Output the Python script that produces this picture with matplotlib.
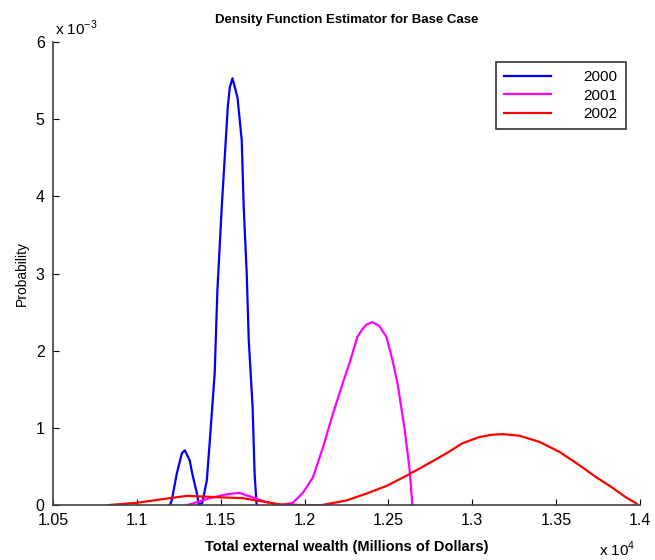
import numpy as np
import matplotlib.pyplot as plt

plt.rcParams["font.family"] = ["Liberation Sans", "DejaVu Sans"]

# wealth in units of 1e4, density in units of 1e-3
x_2000 = [1.1196, 1.1208, 1.1238, 1.1268, 1.1286, 1.1315, 1.133, 1.1357, 1.137,
          1.139, 1.1417, 1.1435, 1.1464, 1.148, 1.1506, 1.1524, 1.1542, 1.1554,
          1.157, 1.160, 1.1625, 1.1637, 1.1655, 1.1667, 1.169, 1.1702, 1.1714]
y_2000 = [0.0, 0.06, 0.41, 0.67, 0.71, 0.58, 0.41, 0.16, 0.0,
          0.03, 0.32, 0.84, 1.71, 2.78, 3.86, 4.51, 5.16, 5.41,
          5.53, 5.28, 4.73, 3.86, 3.0, 2.14, 1.27, 0.41, 0.0]

x_2001 = [1.130, 1.1435, 1.1536, 1.161, 1.169, 1.177, 1.186, 1.193, 1.199,
          1.205, 1.211, 1.217, 1.222, 1.2268, 1.2315, 1.2345, 1.237, 1.2405,
          1.2446, 1.2488, 1.2524, 1.2554, 1.2595, 1.2625, 1.2643]
y_2001 = [0.0, 0.09, 0.14, 0.16, 0.10, 0.04, 0.0, 0.03, 0.16,
          0.36, 0.75, 1.19, 1.53, 1.84, 2.18, 2.28, 2.34, 2.37,
          2.32, 2.18, 1.88, 1.58, 1.01, 0.49, 0.0]

x_2002 = [1.0827, 1.10, 1.1196, 1.13, 1.151, 1.163, 1.177, 1.185, 1.20, 1.21,
          1.225, 1.237, 1.249, 1.2607, 1.274, 1.2845, 1.294, 1.304, 1.311,
          1.3178, 1.328, 1.34, 1.352, 1.3637, 1.374, 1.3833, 1.3917, 1.398]
y_2002 = [0.0, 0.03, 0.09, 0.12, 0.10, 0.09, 0.04, 0.01, 0.0, 0.0,
          0.06, 0.15, 0.25, 0.38, 0.54, 0.67, 0.80, 0.88, 0.91,
          0.92, 0.90, 0.82, 0.69, 0.52, 0.36, 0.23, 0.10, 0.02]

xticks = [1.05, 1.1, 1.15, 1.2, 1.25, 1.3, 1.35, 1.4]
xtick_labels = ["1.05", "1.1", "1.15", "1.2", "1.25", "1.3", "1.35", "1.4"]
yticks = [0, 1, 2, 3, 4, 5, 6]

fig = plt.figure(figsize=(6.55, 5.6), dpi=100)
ax = fig.add_axes([0.081, 0.098, 0.896, 0.827])

ax.plot(x_2000, y_2000, color=(0, 0, 1), lw=1.6, label="2000")
ax.plot(x_2001, y_2001, color=(1, 0, 1), lw=1.6, label="2001")
ax.plot(x_2002, y_2002, color=(1, 0, 0), lw=1.6, label="2002")

ax.set_xlim(1.05, 1.4)
ax.set_ylim(0, 6)
ax.set_xticks(xticks)
ax.set_xticklabels(xtick_labels)
ax.set_yticks(yticks)
ax.tick_params(direction="in", length=4, labelsize=11.5, colors="black")
ax.tick_params(axis="x", pad=6)
ax.tick_params(axis="y", pad=6)
ax.spines["top"].set_visible(False)
ax.spines["right"].set_visible(False)
for s in ("left", "bottom"):
    ax.spines[s].set_color("#404040")
    ax.spines[s].set_linewidth(1.2)

ax.set_title("Density Function Estimator for Base Case", fontsize=9.5,
             fontweight="bold", pad=14)
ax.set_xlabel("Total external wealth (Millions of Dollars)", fontsize=10.5,
              fontweight="bold", labelpad=8)
ax.set_ylabel("Probability", fontsize=10, labelpad=5)

# exponent labels, MATLAB style
fig.text(0.084, 0.937, r"x 10$^{\mathregular{-3}}$", fontsize=11, va="baseline")
fig.text(0.915, 0.008, r"x 10$^{\mathregular{4}}$", fontsize=11, va="baseline")

leg = ax.legend(loc="upper right", bbox_to_anchor=(0.976, 0.957), fontsize=11,
                frameon=True, fancybox=False, edgecolor="black",
                borderaxespad=0, handlelength=3.1, handletextpad=2.1,
                borderpad=0.55, labelspacing=0.28)
leg.get_frame().set_linewidth(1.2)

fig.savefig("out.png")
